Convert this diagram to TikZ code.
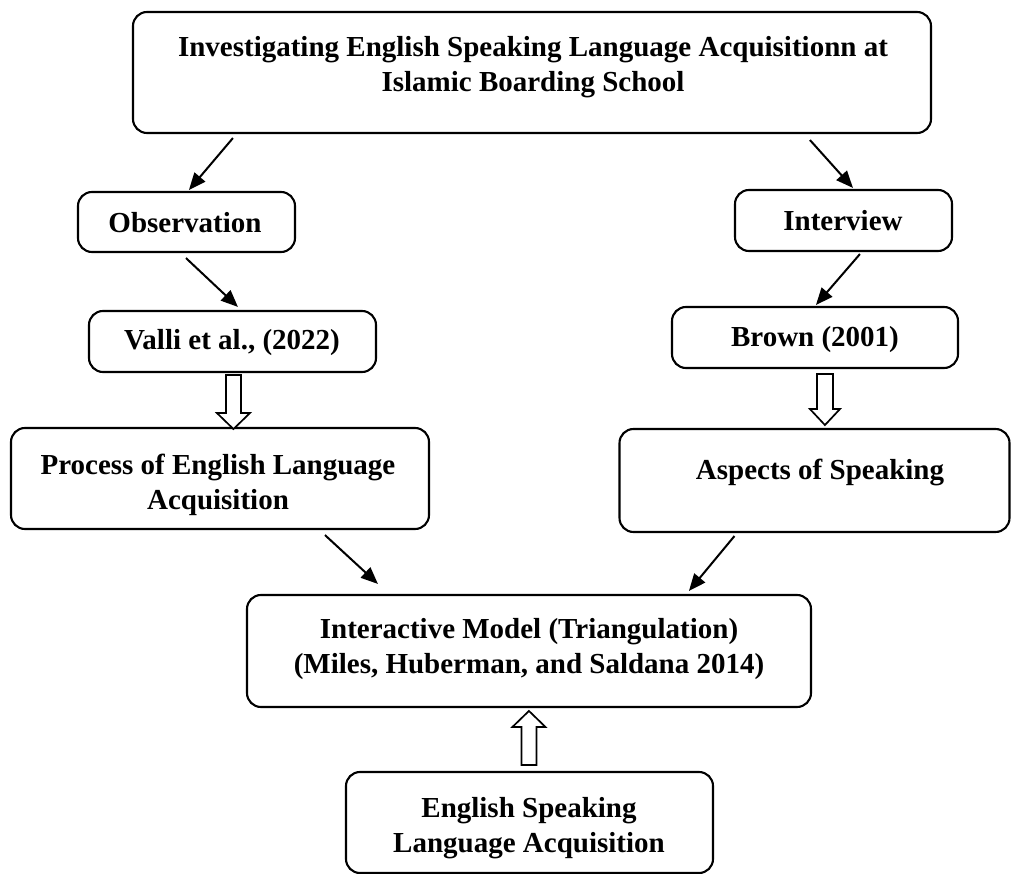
\documentclass[tikz,border=0pt]{standalone}
\usepackage{fontspec}
\setmainfont{Liberation Serif}
\usetikzlibrary{calc,arrows.meta}
\begin{document}
\begin{tikzpicture}[x=1pt,y=-1pt,
  box/.style={draw=black,line width=2.1pt,rounded corners=14pt,rectangle,inner sep=0pt,fill=white},
  txt/.style={font=\bfseries\fontsize{29}{35}\selectfont,align=center,inner sep=0pt,anchor=base},
  arr/.style={line width=2pt,-{Triangle[length=17pt,width=14pt]}},
  hollow/.style={draw=black,line width=1.7pt,fill=white,line join=miter}]
\useasboundingbox (0,0) rectangle (1012,874);
\fill[white] (0,0) rectangle (1012,874);
\begin{scope}
\clip (0,0) rectangle (1012,874);
% boxes
\node[box,minimum width=798pt,minimum height=121pt] (top) at (532,72.5) {};
\node[box,minimum width=217pt,minimum height=60pt] (obs) at (186.5,222) {};
\node[box,minimum width=287pt,minimum height=61pt] (valli) at (232.5,341.5) {};
\node[box,minimum width=217pt,minimum height=61pt] (int) at (843.5,220.5) {};
\node[box,minimum width=286pt,minimum height=61pt] (brown) at (815,337.5) {};
\node[box,minimum width=418pt,minimum height=101pt] (proc) at (220,478.5) {};
\node[box,minimum width=390pt,minimum height=103pt] (asp) at (814.5,480.5) {};
\node[box,minimum width=564pt,minimum height=112pt] (inter) at (529,651) {};
\node[box,minimum width=367pt,minimum height=101pt] (bot) at (529.5,822.5) {};
% texts (anchor base = last line baseline)
\node[txt] (topT) at (533,92) {Investigating English Speaking Language Acquisitionn at\\Islamic Boarding School};
\node[txt] (obsT) at (185,233) {Observation};
\node[txt] (valliT) at (232,350) {Valli et al., (2022)};
\node[txt] (intT) at (843,231) {Interview};
\node[txt] (brownT) at (815,347) {Brown (2001)};
\node[txt] (procT) at (218,509) {Process of English Language\\Acquisition};
\node[txt] (aspT) at (820,479) {Aspects of Speaking};
\node[txt] (interT) at (529,673) {Interactive Model (Triangulation)\\(Miles, Huberman, and Saldana 2014)};
\node[txt] (botT) at (529,852) {English Speaking\\Language Acquisition};
\end{scope}
% connectors
\draw[arr] ($(top.south west)+(101,4)$) -- ($(obs.north west)+(112,-1)$);
\draw[arr] ($(obs.south west)+(109,5)$) -- ($(valli.north west)+(150,-3)$);
\draw[arr] ($(top.south west)+(678,6)$) -- ($(int.north west)+(119,-1)$);
\draw[arr] ($(int.south west)+(126,2)$) -- ($(brown.north west)+(145,-1)$);
\draw[arr] ($(proc.south west)+(315,5)$) -- ($(inter.north west)+(132,-10)$);
\draw[arr] ($(asp.south west)+(116,3)$) -- ($(inter.north west)+(443,-3)$);
% hollow block arrows
\coordinate (h1) at ($(valli.south west)+(145.5,2)$);
\draw[hollow] (h1) ++(-7.5,0) -- ++(0,38) -- ++(-9,0) -- ++(16.5,16) -- ++(16.5,-16) -- ++(-9,0) -- ++(0,-38) -- cycle;
\coordinate (h2) at ($(brown.south west)+(154,5)$);
\draw[hollow] (h2) ++(-8,0) -- ++(0,35) -- ++(-7,0) -- ++(15,16) -- ++(15,-16) -- ++(-7,0) -- ++(0,-35) -- cycle;
\coordinate (h3) at ($(bot.north west)+(184,-6)$);
\draw[hollow] (h3) ++(-7.5,0) -- ++(0,-38) -- ++(-9,0) -- ++(16.5,-16) -- ++(16.5,16) -- ++(-9,0) -- ++(0,38) -- cycle;
\end{tikzpicture}
\end{document}
